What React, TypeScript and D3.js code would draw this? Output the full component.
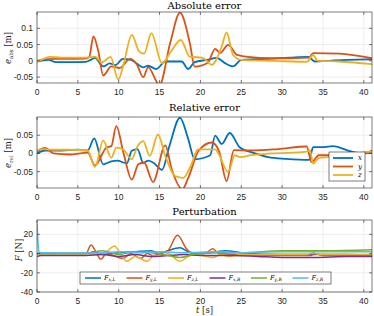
import * as d3 from "d3";
import React from "react";

type Pt = [number, number];

// time axis and tick values
const timeTicks = [0, 5, 10, 15, 20, 25, 30, 35, 40];
const absTicks = [-0.05, 0, 0.05, 0.1];
const relTicks = [-0.05, 0, 0.05];
const forceTicks = [-40, -20, 0, 20];

// Absolute error [m]
const absX: Pt[] = [[0,-0.002],[1.4,0.003],[2.3,-0.004],[4,-0.004],[6,-0.003],[6.5,0.002],[7.1,0.009],[8.1,-0.017],[8.9,-0.008],[9.6,-0.013],[10.5,0.006],[11.5,0.003],[12.3,-0.01],[13,-0.02],[13.6,-0.015],[14.6,-0.025],[15.7,-0.002],[17.7,-0.002],[18.5,-0.025],[19.3,-0.004],[20.8,0.003],[22,0.009],[23,-0.007],[24,-0.017],[25,0.003],[28,0.006],[31,0.01],[33.2,0.012],[34,-0.002],[36,0.001],[38,0.003],[41,0.005]];
const absY: Pt[] = [[0,0],[1,0.005],[3,0.006],[6,0.007],[6.4,0.012],[6.9,0.075],[7.5,0.03],[8.1,-0.045],[9.1,-0.017],[10.1,-0.022],[11.4,0.006],[12.2,-0.01],[13,-0.05],[13.6,-0.02],[15,-0.074],[16.3,0.055],[17.5,0.148],[18.7,0.055],[19.3,-0.018],[20.9,-0.006],[21.8,0.037],[22.4,0.024],[23.4,0.049],[24.5,0.018],[27.3,0.009],[30,0.008],[33.3,0.01],[33.8,0.024],[37,0.022],[41,0.008]];
const absZ: Pt[] = [[0,-0.003],[0.7,0.005],[1.5,0.012],[3,0.01],[6,0.01],[7.1,0.013],[7.9,-0.005],[9.0,0.012],[9.95,-0.058],[10.6,-0.01],[11.6,0.08],[12.5,0.029],[13.1,0.022],[14.0,0.085],[15.3,-0.008],[16.3,0.025],[17.6,0.064],[18.7,0.013],[20.3,0.009],[21.4,-0.012],[22.6,0.044],[23.2,0.087],[24.0,0.018],[25,0.003],[29,0.0],[33,-0.003],[33.8,0.018],[34.3,0.001],[37,-0.002],[41,-0.01]];

// Relative error [m]
const relX: Pt[] = [[0,0],[1,0.008],[3,0.008],[5,0.01],[6.2,0.008],[7.0,0.041],[8.1,-0.03],[9.1,-0.022],[9.8,-0.02],[11,-0.027],[11.6,0.007],[12.3,0.012],[13,-0.026],[13.6,-0.02],[14.2,-0.025],[15.3,-0.045],[16.2,0.02],[17.5,0.098],[18.5,0.04],[19.3,-0.016],[21.2,-0.005],[21.8,0.049],[22.6,0.026],[23.6,0.056],[24.8,0.017],[26.6,0.001],[28.3,-0.01],[30.5,-0.015],[33.3,-0.018],[33.8,0.017],[35,0.017],[36.2,0.02],[38.6,0.004],[40.1,0],[41,0.002]];
const relY: Pt[] = [[0,0.005],[1,0.015],[2,0],[4,-0.003],[6.2,0.002],[7.1,-0.033],[8.5,0.016],[9.1,0.02],[9.7,0.075],[10.6,0.0],[11.6,-0.072],[12.4,-0.03],[13.1,-0.025],[14.2,-0.078],[15.7,0.022],[16.5,-0.044],[17.8,-0.098],[18.5,-0.068],[19.8,0.008],[21.4,0.03],[22.3,0.005],[23.2,-0.076],[24.1,0.009],[26.2,0.008],[29.5,0.012],[33,0.019],[33.6,-0.024],[34.5,-0.005],[35.7,-0.005],[40,0],[41,0.008]];
const relZ: Pt[] = [[0,0.008],[0.5,0.012],[2,0.01],[4,0.01],[6.2,0.008],[7.1,-0.037],[8.1,0.035],[9.1,-0.012],[9.7,0.016],[10.6,0.01],[11.6,-0.016],[12.3,0.02],[13,0.034],[13.8,-0.007],[14.8,0.052],[15.7,-0.007],[16.9,-0.062],[17.9,-0.067],[18.9,-0.03],[19.7,0.011],[21.8,0.011],[22.2,0],[23.4,-0.051],[24.2,-0.005],[24.8,-0.01],[26.2,-0.005],[28.7,0],[32.8,0.004],[33.4,0.008],[33.8,-0.028],[34.5,-0.012],[35.7,-0.01],[37.3,-0.01],[40.4,0.004],[41,0.004]];

// Perturbation [N]
const fxL: Pt[] = [[0,0],[6,0],[7,2],[8,-1],[10,1],[12,2],[14,3],[15,0],[16,3],[17.5,6],[18.5,2],[20,0],[22,2],[23,3],[25,1],[30,-1],[34,-1],[38,-1],[41,-2]];
const fyL: Pt[] = [[0,0],[6,0],[6.6,9],[7.2,2],[7.8,-6],[8.5,0],[10.5,-5],[11.5,0],[12.7,-5],[13.5,0],[14.2,-2],[15,0],[16,3],[17.2,19],[18.3,5],[19,0],[20.5,0],[21.5,5],[22.3,0],[25,-1],[30,-2],[33.5,-2],[34,0],[35,-2],[41,-2]];
const fzL: Pt[] = [[0,0],[6,0],[8,-1],[9.5,8],[10.2,0],[11,-8],[12,-3],[13.5,-8],[14.3,-2],[15,-3],[16,0],[17.5,-8],[18.5,-3],[19.5,-1],[21.5,-4],[22.5,-1],[23.5,-3],[25,-1],[33,-1],[33.8,1],[34.5,-1],[41,-1]];
const fxR: Pt[] = [[0,-3],[0.5,-2],[6,-2],[8,-1],[10,-3],[12,-1],[14,-3],[16,-2],[18,-1],[20,-2],[24,-2],[27,-3],[30,-4],[34,-4],[38,-3],[41,-3]];
const fyR: Pt[] = [[0,0],[6,0],[8,3],[10,-1],[12,2],[14,1],[16,-2],[17.5,-4],[19,-1],[22,1],[25,1],[30,3],[35,3],[41,4]];
const fzR: Pt[] = [[0,31],[0.25,2],[0.5,1],[6,0.5],[8,1],[10,2],[13,1],[15,2],[18,1],[22,2],[25,1],[30,2],[35,2],[41,2]];

const colors = ["#0072BD", "#D95319", "#EDB120", "#7E2F8E", "#77AC30", "#4DBEEE"];
const errLabels = ["x", "y", "z"];
const forceLabels = [["x", "L"], ["y", "L"], ["z", "L"], ["x", "R"], ["y", "R"], ["z", "R"]];

const W = 374;
const H = 316;
const LEFT = 37;
const RIGHT = 372;
const AX = "#262626";
const serif = { fontFamily: "'DejaVu Serif', serif", fontWeight: 400 } as const;
const sans = { fontFamily: "'Liberation Sans', Arial, sans-serif" } as const;

const x = d3.scaleLinear().domain([0, 41]).range([LEFT, RIGHT]);

function Panel(props: any) {
  const { id, top, bottom, domain, yTicks, series, title, titleY, width, children } = props;
  const y = d3.scaleLinear().domain(domain).range([bottom, top]);
  const line = d3.line<Pt>().x(d => x(d[0])).y(d => y(d[1])).curve(d3.curveMonotoneX);
  return (
    <g>
      <clipPath id={id}>
        <rect x={LEFT} y={top} width={RIGHT - LEFT} height={bottom - top} />
      </clipPath>
      {/* grid */}
      {timeTicks.map(t => (
        <line key={"gx" + t} x1={x(t)} x2={x(t)} y1={top} y2={bottom} stroke="#e3e3e3" strokeWidth={0.6} />
      ))}
      {yTicks.map((v: number) => (
        <line key={"gy" + v} x1={LEFT} x2={RIGHT} y1={y(v)} y2={y(v)} stroke="#e3e3e3" strokeWidth={0.6} />
      ))}
      {/* data */}
      <g clipPath={`url(#${id})`} fill="none" strokeLinejoin="round">
        {series.map((s: Pt[], i: number) => (
          <path key={i} d={line(s) || ""} stroke={colors[i]} strokeWidth={width} />
        ))}
      </g>
      {/* box + ticks */}
      <rect x={LEFT} y={top} width={RIGHT - LEFT} height={bottom - top} fill="none" stroke={AX} strokeWidth={0.6} />
      {timeTicks.map(t => (
        <g key={"tx" + t}>
          <line x1={x(t)} x2={x(t)} y1={bottom} y2={bottom - 3} stroke={AX} strokeWidth={0.6} />
          <line x1={x(t)} x2={x(t)} y1={top} y2={top + 3} stroke={AX} strokeWidth={0.6} />
          <text x={x(t)} y={bottom + 12} textAnchor="middle" fontSize={8.5} style={sans} fill={AX}>{t}</text>
        </g>
      ))}
      {yTicks.map((v: number) => (
        <g key={"ty" + v}>
          <line x1={LEFT} x2={LEFT + 3} y1={y(v)} y2={y(v)} stroke={AX} strokeWidth={0.6} />
          <line x1={RIGHT} x2={RIGHT - 3} y1={y(v)} y2={y(v)} stroke={AX} strokeWidth={0.6} />
          <text x={LEFT - 4} y={y(v)} dy="0.35em" textAnchor="end" fontSize={8.5} style={sans} fill={AX}>{String(v)}</text>
        </g>
      ))}
      <text x={(LEFT + RIGHT) / 2} y={titleY} textAnchor="middle" fontSize={10} style={serif} fill="#000">{title}</text>
      {children}
    </g>
  );
}

export default function App() {
  return (
    <svg width={W} height={H} style={{ position: "absolute", left: 0, top: 0, background: "#fff" }}>
      <Panel id="c1" top={12} bottom={83} domain={[-0.068, 0.15]} yTicks={absTicks}
        series={[absX, absY, absZ]} title="Absolute error" titleY={8.5} width={1.8}>
        <text transform="translate(11,48) rotate(-90)" textAnchor="middle" fontSize={8.5} style={serif} fill={AX}>
          <tspan fontStyle="italic">e</tspan>
          <tspan fontSize={5.5} dy={2}>abs</tspan>
          <tspan dy={-2}> [m]</tspan>
        </text>
      </Panel>
      <Panel id="c2" top={117} bottom={188} domain={[-0.095, 0.1]} yTicks={relTicks}
        series={[relX, relY, relZ]} title="Relative error" titleY={111} width={1.8}>
        <text transform="translate(11,153) rotate(-90)" textAnchor="middle" fontSize={8.5} style={serif} fill={AX}>
          <tspan fontStyle="italic">e</tspan>
          <tspan fontSize={5.5} dy={2}>rel</tspan>
          <tspan dy={-2}> [m]</tspan>
        </text>
        <rect x={329} y={152} width={36} height={29} fill="#fff" stroke={AX} strokeWidth={0.6} />
        {errLabels.map((l, i) => (
          <g key={l}>
            <line x1={333} x2={353} y1={158 + i * 8.5} y2={158 + i * 8.5} stroke={colors[i]} strokeWidth={1.8} />
            <text x={358} y={158 + i * 8.5} dy="0.3em" fontSize={7} fontStyle="italic" style={serif} fill="#000">{l}</text>
          </g>
        ))}
      </Panel>
      <Panel id="c3" top={220} bottom={292} domain={[-40, 35]} yTicks={forceTicks}
        series={[fxL, fyL, fzL, fxR, fyR, fzR]} title="Perturbation" titleY={215} width={1.5}>
        <text transform="translate(22,250) rotate(-90)" textAnchor="middle" fontSize={8.5} style={serif} fill={AX}>
          <tspan fontStyle="italic">F</tspan>
          <tspan> [N]</tspan>
        </text>
        <rect x={80} y={272} width={251} height={12} fill="#fff" stroke={AX} strokeWidth={0.6} />
        {forceLabels.map((l, i) => (
          <g key={i} transform={`translate(${85 + i * 41.5},278)`}>
            <line x1={0} x2={16} y1={0} y2={0} stroke={colors[i]} strokeWidth={1.5} />
            <text x={19} y={0} dy="0.3em" fontSize={6.5} style={serif} fill="#000">
              <tspan fontStyle="italic">F</tspan>
              <tspan fontSize={4.5} dy={1.5} fontStyle="italic">{l[0]}</tspan>
              <tspan fontSize={4.5}>,</tspan>
              <tspan fontSize={4.5} fontStyle="italic">{l[1]}</tspan>
            </text>
          </g>
        ))}
      </Panel>
      <text x={(LEFT + RIGHT) / 2} y={313} textAnchor="middle" fontSize={8.5} style={serif} fill={AX}>
        <tspan fontStyle="italic">t</tspan>
        <tspan> [s]</tspan>
      </text>
    </svg>
  );
}
